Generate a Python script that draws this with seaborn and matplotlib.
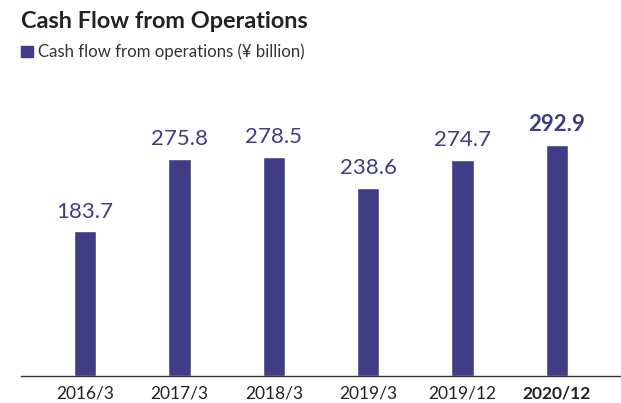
import matplotlib
matplotlib.use("Agg")
import matplotlib.pyplot as plt
import seaborn as sns
import pandas as pd

periods = ["2016/3", "2017/3", "2018/3", "2019/3", "2019/12", "2020/12"]
values = [183.7, 275.8, 278.5, 238.6, 274.7, 292.9]
value_labels = ["183.7", "275.8", "278.5", "238.6", "274.7", "292.9"]

sns.set_theme(style="white")
plt.rcParams['font.family'] = ['Lato', 'DejaVu Sans']

bar_color = "#413C86"
df = pd.DataFrame({"period": periods, "value": values})

fig = plt.figure(figsize=(6.21, 4.03), dpi=100)
ax = fig.add_axes([21 / 621, 27 / 403, 600 / 621, 316 / 403])
sns.barplot(data=df, x="period", y="value", color=bar_color, width=0.24,
            saturation=1, ax=ax)

ax.set_xlim(-0.68, 5.68)
ax.set_ylim(0, 401)
ax.set_xlabel("")
ax.set_ylabel("")
ax.set_yticks([])
for s in ["top", "right", "left"]:
    ax.spines[s].set_visible(False)
ax.spines["bottom"].set_color("#333333")
ax.spines["bottom"].set_linewidth(1.0)
ax.tick_params(axis="x", length=0, pad=7, labelsize=12.5, colors="#222222")
for i, t in enumerate(ax.get_xticklabels()):
    if i == len(periods) - 1:
        t.set_fontweight("bold")

container = ax.containers[0]
labels = ax.bar_label(container, labels=value_labels, padding=7, fontsize=16,
                      color=bar_color)
labels[-1].set_fontweight("bold")

fig.text(21 / 621, 1 - 21 / 403, "Cash Flow from Operations", fontsize=16.9,
         fontweight="bold", color="#222222", va="center", ha="left")
fig.patches.append(plt.Rectangle((21 / 621, 1 - 57 / 403), 12 / 621, 11 / 403,
                                 transform=fig.transFigure, color=bar_color))
fig.text(38 / 621, 1 - 52 / 403, "Cash flow from operations (¥ billion)",
         fontsize=12.1, color="#333333", va="center", ha="left")

fig.savefig("out.png", dpi=100)
